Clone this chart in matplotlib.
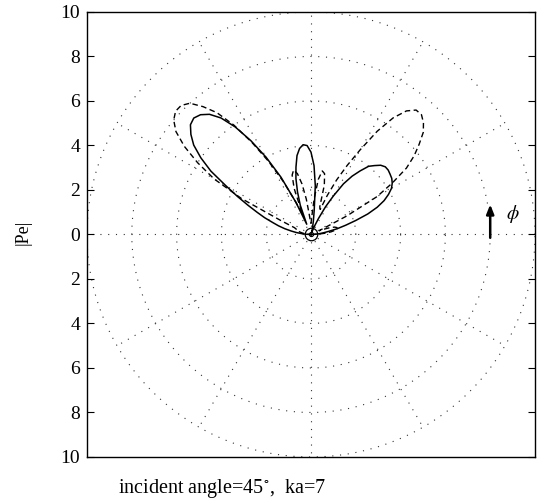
import numpy as np
import matplotlib
matplotlib.use("Agg")
import matplotlib.pyplot as plt

plt.rcParams['font.family'] = ['Liberation Serif', 'DejaVu Serif']
plt.rcParams['mathtext.fontset'] = 'stix'

# angles (degrees) at which the pattern was read
angles_deg = [0, 2.5, 5, 7.5, 10, 12.5, 15, 17.5, 20, 22.5, 25, 27.5, 30, 32.5, 35, 37.5,
              40, 42.5, 45, 47.5, 50, 52.5, 55, 57.5, 60, 62.5, 65, 67.5, 70, 72.5, 75, 77.5,
              80, 82.5, 85, 87.5, 90, 92.5, 95, 97.5, 100, 102.5, 105, 107.5, 110, 112.5,
              115, 117.5, 120, 122.5, 125, 127.5, 130, 132.5, 135, 137.5, 140, 142.5, 145,
              147.5, 150, 152.5, 155, 157.5, 160, 162.5, 165, 167.5, 170, 172.5, 175, 177.5, 180]

# |Pe| solid curve
pe_solid = [0.0, 0.15, 0.35, 0.55, 0.8, 1.2, 1.6, 2.1, 2.7, 3.2, 3.6, 3.9, 4.15, 4.3, 4.4, 4.45,
            4.5, 4.5, 4.4, 4.2, 4.0, 3.6, 3.2, 2.7, 2.0, 1.4, 0.8, 0.4, 0.15, 0.1, 0.15, 0.3,
            0.6, 1.1, 2.2, 3.1, 3.7, 4.0, 4.05, 3.9, 3.6, 3.1, 2.6, 2.0, 1.4, 0.5,
            1.6, 2.9, 4.0, 5.0, 5.9, 6.6, 7.05, 7.3, 7.4, 7.3, 7.0, 6.6, 6.0,
            5.3, 4.4, 3.7, 3.1, 2.6, 2.2, 1.8, 1.5, 1.2, 0.9, 0.65, 0.4, 0.2, 0.0]

# |Pe| dashed curve
pe_dashed = [0.0, 0.3, 0.6, 0.9, 1.1, 1.2, 1.2, 1.1, 0.9, 0.6, 0.4, 1.8, 3.4, 4.3, 5.2, 5.8,
             6.3, 6.8, 7.1, 7.3, 7.3, 7.0, 6.4, 5.5, 4.4, 3.5, 2.7, 1.9, 1.2, 1.3, 2.3, 2.8,
             2.9, 2.5, 1.6, 0.8, 0.5, 0.6, 0.9, 1.6, 2.3, 2.8, 3.0, 2.8, 2.2, 1.0,
             1.6, 2.7, 3.8, 4.9, 6.0, 6.9, 7.5, 8.0, 8.2, 8.2, 8.0, 7.6, 6.9,
             6.0, 5.0, 3.5, 1.5, 0.8, 0.7, 0.7, 0.6, 0.5, 0.4, 0.3, 0.2, 0.1, 0.0]

grid_radii = [2, 4, 6, 8, 10]
spoke_angles = [0, 30, 60, 90, 120, 150, 180, 210, 240, 270, 300, 330]
yticks = [-10, -8, -6, -4, -2, 0, 2, 4, 6, 8, 10]
ytick_labels = [str(abs(v)) for v in yticks]

fig = plt.figure(figsize=(5.42, 5.03), dpi=100)
ax = fig.add_axes([0.1605, 0.0915, 0.8266, 0.8847])

# polar grid (sparse dots)
t = np.linspace(0, 2 * np.pi, 400)
for r in grid_radii:
    ax.plot(r * np.cos(t), r * np.sin(t), color='0.2', lw=0.8,
            linestyle=(0, (1, 6)), zorder=1)
for a in spoke_angles:
    ar = np.deg2rad(a)
    ax.plot([0, 10 * np.cos(ar)], [0, 10 * np.sin(ar)], color='0.2', lw=0.8,
            linestyle=(0, (1, 6)), zorder=1)

th = np.deg2rad(np.array(angles_deg))
rs = np.array(pe_solid)
rd = np.array(pe_dashed)
ax.plot(rs * np.cos(th), rs * np.sin(th), color='black', lw=1.1, zorder=3)
ax.plot(rd * np.cos(th), rd * np.sin(th), color='black', lw=1.0,
        linestyle=(0, (4, 2.5)), zorder=3)

# origin marker
ax.plot([0], [0], marker='o', ms=9, mfc='none', mec='black', mew=0.9, zorder=4)
ax.plot([0], [0], marker='o', ms=3, mfc='none', mec='black', mew=0.8, zorder=4)

# arrow and phi
ax.annotate('', xy=(8.0, 1.35), xytext=(8.0, -0.15),
            arrowprops=dict(arrowstyle='-|>,head_length=0.55,head_width=0.22',
                            color='black', lw=1.8, shrinkA=0, shrinkB=0))
ax.text(9.0, 0.9, r'$\phi$', fontsize=14, ha='center', va='center')

ax.set_xlim(-10, 10)
ax.set_ylim(-10, 10)
ax.set_xticks([])
ax.set_yticks(yticks)
ax.set_yticklabels(ytick_labels, fontsize=14)
ax.tick_params(axis='y', direction='in', length=5, width=0.8, right=True, pad=5)
for s in ax.spines.values():
    s.set_linewidth(1.0)

fig.text(23 / 542, 1 - 232 / 503, '|Pe|', rotation=90, fontsize=13,
         ha='center', va='center')
fig.text(118 / 542, 1 - 488 / 503, 'incident angle=45$^{\\circ}$,  ka=7', fontsize=14.5,
         ha='left', va='center')

fig.savefig('out.png', dpi=100)
